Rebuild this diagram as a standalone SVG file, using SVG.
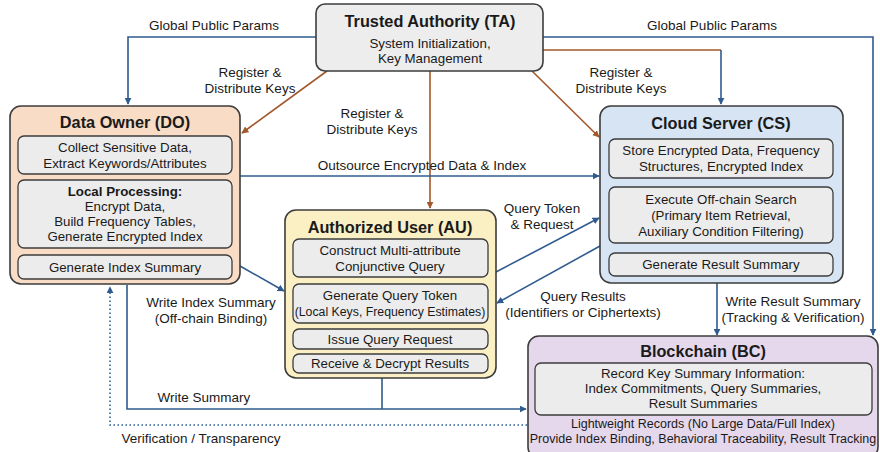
<svg xmlns="http://www.w3.org/2000/svg" width="880" height="452" viewBox="0 0 880 452">
  <defs>
    <marker id="ab" viewBox="0 0 10 10" refX="9" refY="5" markerWidth="7" markerHeight="7" orient="auto-start-reverse" markerUnits="userSpaceOnUse">
      <path d="M0,0 L10,5 L0,10 z" fill="#2f5b8f"/>
    </marker>
    <marker id="ar" viewBox="0 0 10 10" refX="9" refY="5" markerWidth="7" markerHeight="7" orient="auto-start-reverse" markerUnits="userSpaceOnUse">
      <path d="M0,0 L10,5 L0,10 z" fill="#a2582a"/>
    </marker>
    <style>
      text { font-family: "Liberation Sans", Arial, sans-serif; fill: #1a1a1a; text-anchor: middle; }
      .t { font-size: 16.3px; font-weight: bold; }
      .b { font-size: 13.3px; }
      .s { font-size: 12.3px; }
      .f { font-size: 12.5px; }
      .l { font-size: 13.5px; }
      .outer { stroke: #3c3c3c; stroke-width: 1.6; }
      .inner { fill: #ececec; stroke: #3c3c3c; stroke-width: 1.3; }
      .blue { fill: none; stroke: #2f5b8f; stroke-width: 1.6; }
      .brown { fill: none; stroke: #a2582a; stroke-width: 1.6; }
      .dot { fill: none; stroke: #2f5b8f; stroke-width: 1.6; stroke-dasharray: 1.5 2.5; }
    </style>
  </defs>

  <rect width="880" height="452" fill="#ffffff"/>

  <!-- connectors -->
  <g id="connectors">
    <!-- global public params -->
    <polyline class="blue" points="316,37 128,37 128,104" marker-end="url(#ab)"/>
    <polyline class="blue" points="543,37 873,37 873,335" marker-end="url(#ab)"/>
    <!-- key distribution -->
    <polyline class="brown" points="543,50 721,50"/>
    <polyline class="blue" points="721,50 721,104" marker-end="url(#ab)"/>
    <line class="brown" x1="327" y1="71" x2="242" y2="133" marker-end="url(#ar)"/>
    <line class="brown" x1="430" y1="71" x2="430" y2="208" marker-end="url(#ar)"/>
    <line class="brown" x1="532" y1="71" x2="599" y2="137" marker-end="url(#ar)"/>
    <!-- outsource -->
    <line class="blue" x1="240" y1="176" x2="599" y2="176" marker-end="url(#ab)"/>
    <!-- index summary to AU -->
    <line class="blue" x1="240" y1="266" x2="284" y2="291" marker-end="url(#ab)"/>
    <!-- query token and results -->
    <line class="blue" x1="496" y1="272" x2="599" y2="218" marker-end="url(#ab)"/>
    <line class="blue" x1="600" y1="246" x2="497" y2="303" marker-end="url(#ab)"/>
    <!-- result summary -->
    <line class="blue" x1="717" y1="283" x2="717" y2="335" marker-end="url(#ab)"/>
    <!-- write summary -->
    <polyline class="blue" points="127,285 127,409 526,409" marker-end="url(#ab)"/>
    <line class="blue" x1="382" y1="378" x2="382" y2="409"/>
    <!-- verification -->
    <polyline class="dot" points="527,425 110,425 110,287" marker-end="url(#ab)"/>

    <!-- labels -->
    <text class="l" x="214" y="30">Global Public Params</text>
    <text class="l" x="712" y="30">Global Public Params</text>
    <text class="l" x="250" y="77">Register &amp;</text>
    <text class="l" x="250" y="93">Distribute Keys</text>
    <text class="l" x="372" y="118">Register &amp;</text>
    <text class="l" x="372" y="134">Distribute Keys</text>
    <text class="l" x="621" y="77">Register &amp;</text>
    <text class="l" x="621" y="93">Distribute Keys</text>
    <text class="l" x="422" y="170">Outsource Encrypted Data &amp; Index</text>
    <text class="l" x="542" y="213">Query Token</text>
    <text class="l" x="542" y="229">&amp; Request</text>
    <text class="l" x="211" y="307">Write Index Summary</text>
    <text class="l" x="211" y="323">(Off-chain Binding)</text>
    <text class="l" x="583" y="301">Query Results</text>
    <text class="l" x="583" y="317">(Identifiers or Ciphertexts)</text>
    <text class="l" x="793" y="306">Write Result Summary</text>
    <text class="l" x="793" y="322">(Tracking &amp; Verification)</text>
    <text class="l" x="204" y="402">Write Summary</text>
    <text class="l" x="201" y="443">Verification / Transparency</text>
  </g>

  <!-- Trusted Authority -->
  <g id="ta">
    <rect class="outer" x="316" y="4" width="227" height="67" rx="9" fill="#ededed"/>
    <text class="t" x="430" y="27">Trusted Authority (TA)</text>
    <text class="b" x="430" y="48">System Initialization,</text>
    <text class="b" x="430" y="63">Key Management</text>
  </g>

  <!-- Data Owner -->
  <g id="do">
    <rect class="outer" x="10" y="106" width="230" height="178" rx="11" fill="#f9dcc6"/>
    <text class="t" x="125" y="128">Data Owner (DO)</text>
    <rect class="inner" x="18" y="136" width="214" height="38" rx="6"/>
    <text class="b" x="125" y="152">Collect Sensitive Data,</text>
    <text class="b" x="125" y="168">Extract Keywords/Attributes</text>
    <rect class="inner" x="18" y="180" width="214" height="68" rx="6"/>
    <text class="b" x="125" y="196" font-weight="bold">Local Processing:</text>
    <text class="b" x="125" y="211">Encrypt Data,</text>
    <text class="b" x="125" y="226">Build Frequency Tables,</text>
    <text class="b" x="125" y="241">Generate Encrypted Index</text>
    <rect class="inner" x="18" y="255" width="214" height="24" rx="6"/>
    <text class="b" x="125" y="272">Generate Index Summary</text>
  </g>

  <!-- Authorized User -->
  <g id="au">
    <rect class="outer" x="285" y="210" width="211" height="168" rx="11" fill="#fbefc4"/>
    <text class="t" x="390" y="233">Authorized User (AU)</text>
    <rect class="inner" x="293" y="239" width="195" height="38" rx="6"/>
    <text class="b" x="390" y="255">Construct Multi-attribute</text>
    <text class="b" x="390" y="271">Conjunctive Query</text>
    <rect class="inner" x="293" y="284" width="195" height="39" rx="6"/>
    <text class="b" x="390" y="300">Generate Query Token</text>
    <text class="s" x="390" y="316">(Local Keys, Frequency Estimates)</text>
    <rect class="inner" x="293" y="329" width="195" height="20" rx="6"/>
    <text class="b" x="390" y="344">Issue Query Request</text>
    <rect class="inner" x="293" y="354" width="195" height="19" rx="6"/>
    <text class="b" x="390" y="368">Receive &amp; Decrypt Results</text>
  </g>

  <!-- Cloud Server -->
  <g id="cs">
    <rect class="outer" x="600" y="106" width="243" height="177" rx="11" fill="#d7e4f4"/>
    <text class="t" x="721" y="129">Cloud Server (CS)</text>
    <rect class="inner" x="609" y="139" width="224" height="39" rx="6"/>
    <text class="b" x="721" y="155">Store Encrypted Data, Frequency</text>
    <text class="b" x="721" y="171">Structures, Encrypted Index</text>
    <rect class="inner" x="609" y="187" width="224" height="56" rx="6"/>
    <text class="b" x="721" y="204">Execute Off-chain Search</text>
    <text class="b" x="721" y="220">(Primary Item Retrieval,</text>
    <text class="b" x="721" y="236">Auxiliary Condition Filtering)</text>
    <rect class="inner" x="609" y="253" width="224" height="23" rx="6"/>
    <text class="b" x="721" y="269">Generate Result Summary</text>
  </g>

  <!-- Blockchain -->
  <g id="bc">
    <rect class="outer" x="528" y="336" width="350" height="122" rx="11" fill="#e5d7ec"/>
    <text class="t" x="703" y="357">Blockchain (BC)</text>
    <rect class="inner" x="535" y="363" width="337" height="52" rx="6"/>
    <text class="b" x="703" y="378">Record Key Summary Information:</text>
    <text class="b" x="703" y="393">Index Commitments, Query Summaries,</text>
    <text class="b" x="703" y="408">Result Summaries</text>
    <text class="f" x="703" y="428">Lightweight Records (No Large Data/Full Index)</text>
    <text class="f" x="703" y="443">Provide Index Binding, Behavioral Traceability, Result Tracking</text>
  </g>
</svg>
